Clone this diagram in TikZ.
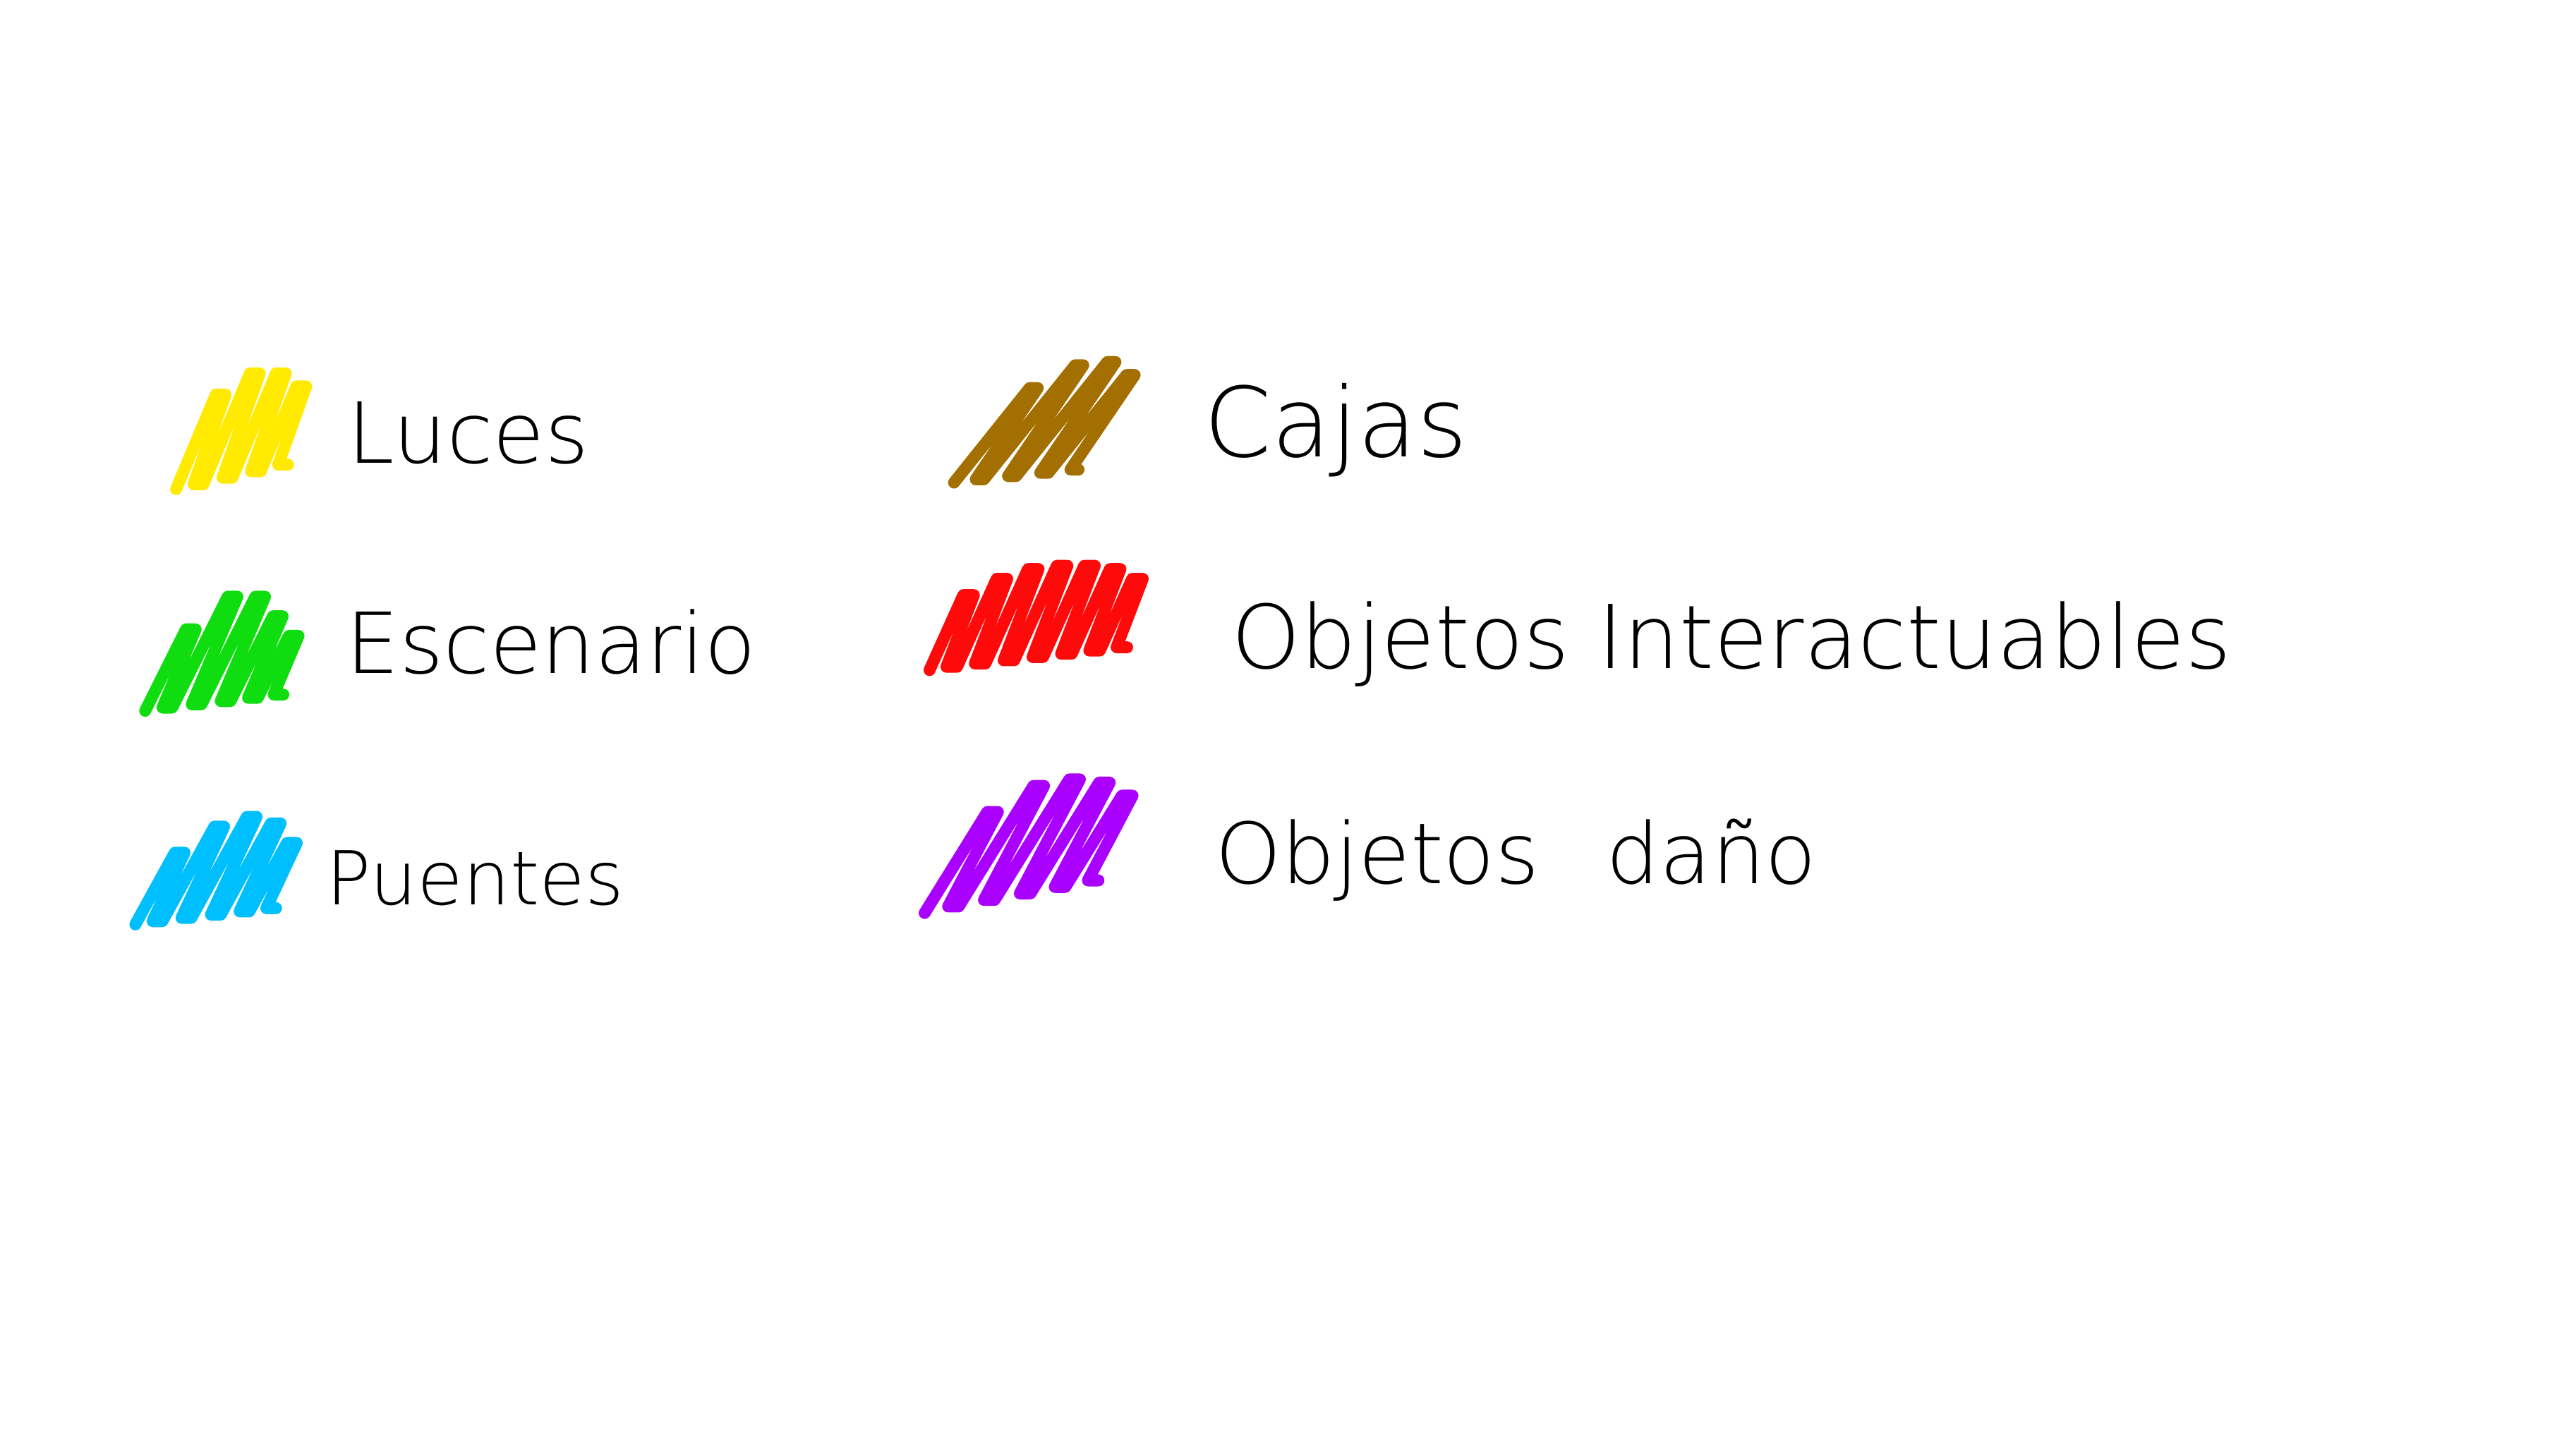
\documentclass[tikz,border=0pt]{standalone}
\usepackage{fontspec}
\setmainfont{DejaVu Sans ExtraLight}
\usepackage{tikz}
\usetikzlibrary{positioning}
\definecolor{swYellow}{HTML}{FFEA00}
\definecolor{swGreen}{HTML}{10DD10}
\definecolor{swBlue}{HTML}{00BFFF}
\definecolor{swBrown}{HTML}{A36F00}
\definecolor{swRed}{HTML}{FF0A0A}
\definecolor{swPurple}{HTML}{AA00FF}
% one scribbled colour patch: colour, start, slant, gap, up/down stroke heights
\newcommand\swatch[5]{%
  \draw[swatchline,draw=#1] #2
    \foreach \u/\d in {#5}{ -- ++({#3*\u},{-\u}) -- ++(#4,0)
                            -- ++({-0.85*#3*\d},{\d}) -- ++(#4,0) };}

\begin{document}
\begin{tikzpicture}[x=0.023112cm,y=-0.023112cm,
    swatchline/.style={line width=4.8pt,line cap=round,line join=round},
    legendlabel/.style={anchor=base west,inner sep=0pt,
                        font=\fontsize{#1}{#1}\selectfont},
    legendlabel/.default=34]
  \useasboundingbox[fill=white] (0,0) rectangle (1568,893);

  % left column
  \coordinate (lucesSw)     at (108,300);
  \coordinate (escenarioSw) at (89,436);
  \coordinate (puentesSw)   at (83,567);
  % right column
  \coordinate (cajasSw)     at (585,296);
  \coordinate (interactSw)  at (570,411);
  \coordinate (danoSw)      at (567,560);

  \swatch{swYellow}{(lucesSw)}{0.42}{6}{58/55,68/64,64/60,52/48}
  \swatch{swGreen}{(escenarioSw)}{0.5}{6}{50/48,68/66,66/64,52/50,38/36}
  \swatch{swBlue}{(puentesSw)}{0.55}{6}{44/42,58/56,62/60,56/54,42/40}
  \swatch{swBrown}{(cajasSw)}{0.8}{5}{58/56,70/68,70/68,60/58}
  \swatch{swRed}{(interactSw)}{0.45}{6.5}{46/44,54/52,58/56,58/56,56/54,52/50,44/42}
  \swatch{swPurple}{(danoSw)}{0.62}{6.5}{62/58,74/70,74/70,68/64,56/52}

  \node[legendlabel]      (luces)     at (213,284) {Luces};
  \node[legendlabel]      (escenario) at (212,413) {Escenario};
  \node[legendlabel=30]   (puentes)   at (200,555) {Puentes};
  \node[legendlabel=39]   (cajas)     at (738,280) {Cajas};
  \node[legendlabel=35.5] (interact)  at (755,410) {Objetos Interactuables};
  \node[legendlabel]      (dano)      at (745,542) {Objetos\hspace{0.8em}daño};
\end{tikzpicture}
\end{document}
